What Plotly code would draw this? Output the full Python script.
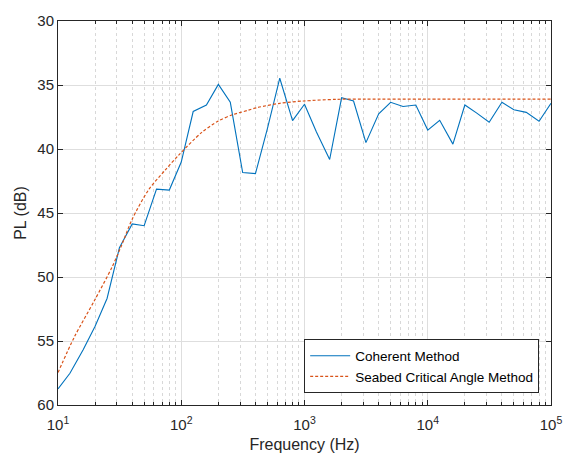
import plotly.graph_objects as go

# One-third-octave band centre frequencies (Hz), 10 Hz .. 100 kHz
freq_bands = [10, 12.5, 16, 20, 25, 31.5, 40, 50, 63, 80,
              100, 125, 160, 200, 250, 315, 400, 500, 630, 800,
              1000, 1250, 1600, 2000, 2500, 3150, 4000, 5000, 6300, 8000,
              10000, 12500, 16000, 20000, 25000, 31500, 40000, 50000, 63000, 80000,
              100000]

# Propagation loss from the coherent method (dB)
pl_coherent = [58.74, 57.52, 55.68, 53.85, 51.68, 47.72, 45.85, 45.99, 43.14, 43.21,
               41.02, 37.07, 36.56, 34.95, 36.35, 41.84, 41.92, 38.40, 34.47, 37.78,
               36.50, 38.67, 40.82, 36.00, 36.25, 39.50, 37.25, 36.35, 36.68, 36.56,
               38.52, 37.76, 39.62, 36.56, 37.20, 37.91, 36.35, 36.94, 37.14, 37.83,
               36.43]

# Propagation loss from the seabed critical angle method (dB)
freq_critical = [10, 13.6, 19.7, 27.6, 33.2, 39.9, 54.3, 73.9, 94.6, 146,
                 198, 261, 345, 415, 631, 982, 1820, 3160, 10000, 100000]
pl_critical = [57.47, 54.67, 51.86, 49.18, 47.4, 45.5, 43.19, 41.66, 40.51, 38.72,
               37.83, 37.32, 36.99, 36.76, 36.43, 36.25, 36.12, 36.1, 36.1, 36.1]

x_tick_vals = [10, 100, 1000, 10000, 100000]
x_tick_text = ["10<sup>1</sup>", "10<sup>2</sup>", "10<sup>3</sup>",
               "10<sup>4</sup>", "10<sup>5</sup>"]
y_tick_vals = [30, 35, 40, 45, 50, 55, 60]

FONT = "Liberation Sans, Arial, Helvetica, sans-serif"
TEXT = "#262626"

fig = go.Figure()
fig.add_trace(go.Scatter(
    x=freq_bands, y=pl_coherent, mode="lines", name="Coherent Method",
    line=dict(color="#0072BD", width=1.1),
))
fig.add_trace(go.Scatter(
    x=freq_critical, y=pl_critical, mode="lines", name="Seabed Critical Angle Method",
    line=dict(color="#D95319", width=1.2, dash="3px,2px", shape="spline", smoothing=0.8),
))

fig.update_layout(
    width=574, height=462,
    margin=dict(l=58, r=17, t=14, b=55),
    paper_bgcolor="white", plot_bgcolor="white",
    font=dict(family=FONT, color=TEXT, size=15),
    showlegend=True,
    legend=dict(
        x=0.976, y=0.03, xanchor="right", yanchor="bottom",
        bgcolor="white", bordercolor="#262626", borderwidth=1,
        font=dict(size=13.5, family=FONT, color="#000000"),
        tracegroupgap=0, itemwidth=40,
    ),
)

fig.update_xaxes(
    type="log", range=[1, 5],
    tickvals=x_tick_vals, ticktext=x_tick_text,
    ticks="inside", ticklen=5, tickcolor=TEXT,
    showline=True, linecolor=TEXT, linewidth=1, mirror="allticks",
    showgrid=True, gridcolor="#dedede", gridwidth=1,
    minor=dict(dtick="D1", ticks="inside", ticklen=3, tickcolor=TEXT,
               showgrid=True, gridcolor="#d8d8d8", griddash="dot", gridwidth=1),
    title=dict(text="Frequency (Hz)", font=dict(size=16, family=FONT, color=TEXT), standoff=6),
    tickfont=dict(size=15, family=FONT, color=TEXT),
    ticklabelstandoff=6,
    zeroline=False,
)
fig.update_yaxes(
    range=[60, 30],
    tickvals=y_tick_vals,
    ticks="inside", ticklen=5, tickcolor=TEXT,
    showline=True, linecolor=TEXT, linewidth=1, mirror="allticks",
    showgrid=True, gridcolor="#dedede", gridwidth=1,
    title=dict(text="PL (dB)", font=dict(size=16, family=FONT, color=TEXT), standoff=6),
    tickfont=dict(size=15, family=FONT, color=TEXT),
    zeroline=False,
)

fig.write_html("out.html")
